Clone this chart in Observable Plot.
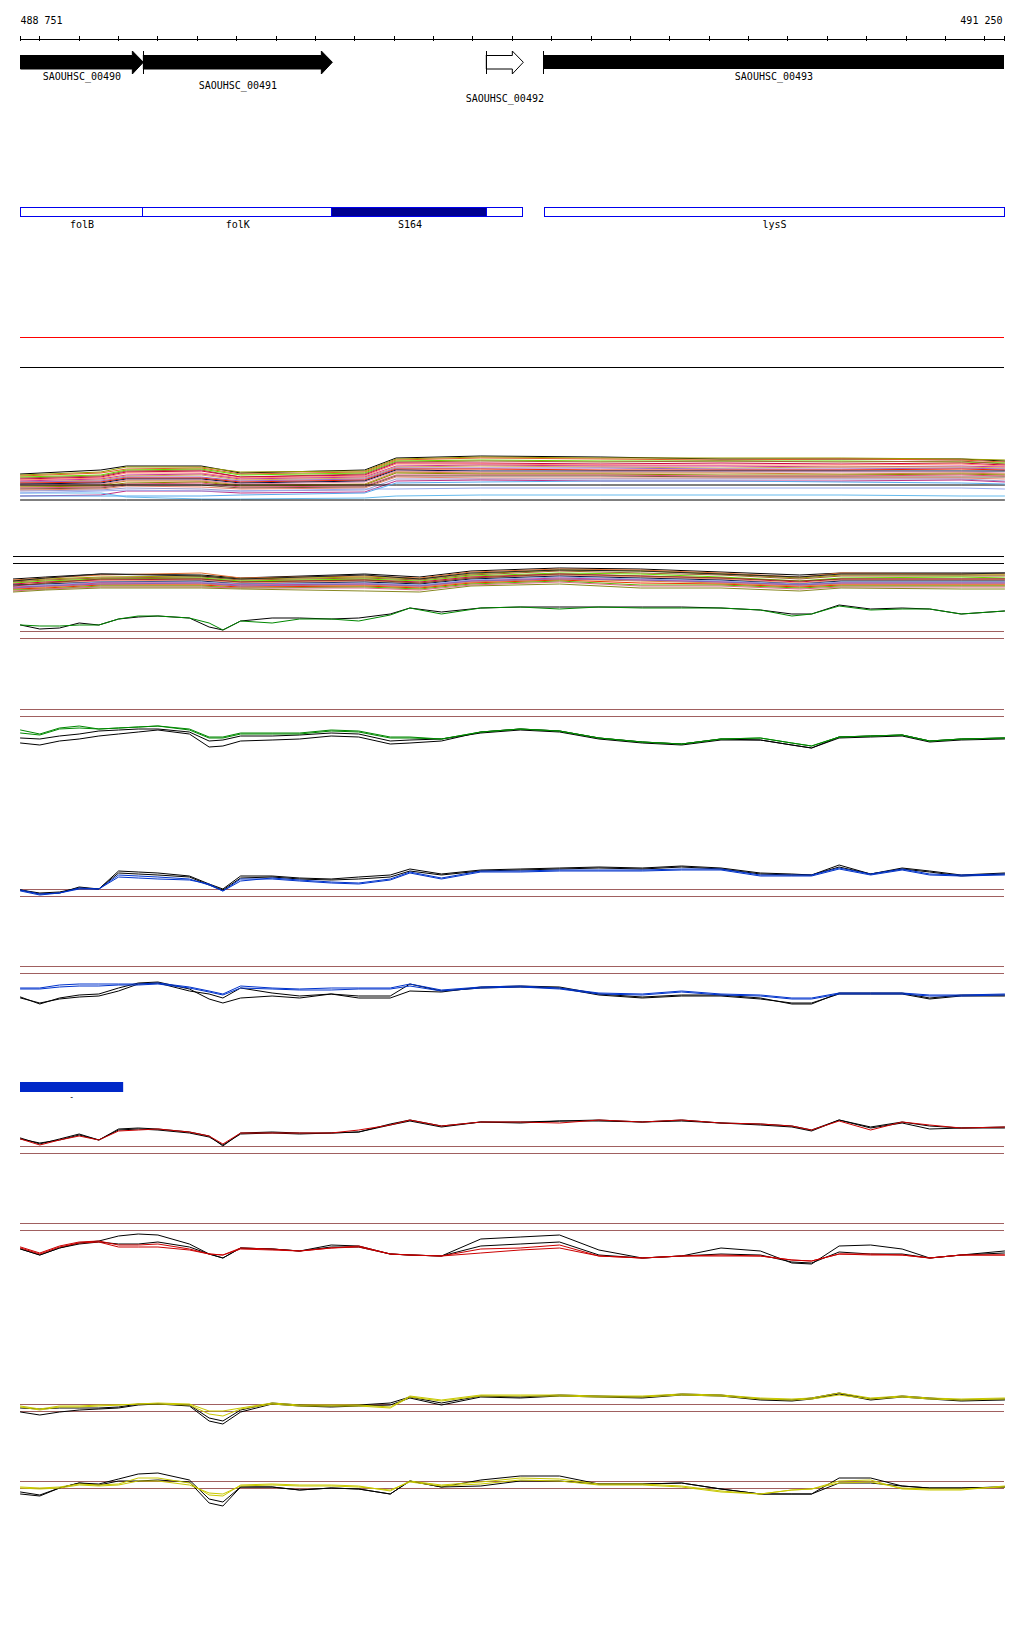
<!DOCTYPE html>
<html><head><meta charset="utf-8">
<script src="https://cdn.jsdelivr.net/npm/d3@7"></script>
<script src="https://cdn.jsdelivr.net/npm/@observablehq/plot@0.6"></script>
<style>body{margin:0;background:#fff}</style>
</head><body><div id="chart"></div>
<script>
// ---------- region and ruler ----------
const START = 488751, END = 491250;
const COORD_LABELS = ["488 751", "491 250"];
const RULER_TICKS = [START, ...d3.range(488800, 491201, 100), END];

// ---------- genes ----------
const GENE_NAMES = ["SAOUHSC_00490", "SAOUHSC_00491", "SAOUHSC_00492", "SAOUHSC_00493"];
const GENE_START = [488751, 489063, 489934, 490079];
const GENE_END   = [489063, 489543, 490028, 491250];
const GENE_HAS_HEAD = [true, true, true, false];
const GENE_FILLED   = [true, true, false, true];

// ---------- features ----------
const FEATURE_NAMES = ["folB", "folK", "S164", "", "lysS"];
const FEATURE_START = [488751, 489063, 489543, 489937, 490082];
const FEATURE_END   = [489063, 489543, 489937, 490028, 491250];
const FEATURE_HIGHLIGHT = [false, false, true, false, false];
const BLUE_BAR = [488751, 489013];
const BLUE_BAR_MARK = 488881;

// ---------- multi-sample tracks ----------
const POS_A = [488751, 488955, 489020, 489210, 489310, 489625, 489705, 489920, 490225, 490530, 490835, 491140, 491250];
const TRACK_A_VALUES = [
 [29,33,37,37,30,33,45,47,46,44,44,44,42],
 [28,31,36,36,31,32,44,46,45,45,45,44,43],
 [27,30,34,35,29,31,43,45,44,43,44,43,41],
 [26,28,33,34,28,30,42,43,42,42,42,41,40],
 [25,27,32,33,26,29,41,42,41,42,41,42,39],
 [24,26,31,32,26,28,40,40,39,40,39,40,38],
 [23,25,30,30,25,27,39,39,38,38,38,39,37],
 [22,24,28,29,24,26,37,38,37,37,36,37,36],
 [21,23,27,28,23,25,36,37,36,35,36,36,35],
 [21,22,26,26,22,24,35,35,35,34,34,35,34],
 [20,21,25,25,21,23,34,34,33,33,33,34,33],
 [19,20,24,24,20,22,33,32,32,32,32,32,32],
 [18,19,23,23,19,21,32,31,31,31,31,31,30],
 [17,18,22,22,18,19,31,30,30,30,29,30,29],
 [16,17,20,21,17,18,30,29,29,28,28,29,28],
 [15,16,19,20,16,17,28,28,28,27,27,28,27],
 [14,15,18,18,15,16,27,27,27,26,26,26,26],
 [13,14,17,16,14,15,26,25,25,25,25,25,24],
 [12,13,15,14,12,13,24,24,24,24,24,24,22],
 [7,8,12,12,10,11,22,23,22,22,22,23,21],
 [18,18,18,18,18,18,18,18,18,18,18,18,18],
 [10,10,6,4,4,5,7,8,8,8,8,7,7],
 [10,12,13,12,12,14,14,15,15,15,15,15,14],
 [7,7,7,7,8,10,20,21,22,22,21,20,19],
 [3,3,3,3,3,3,3,3,3,3,3,3,3]
];
const TRACK_A_COLORS = ["#000000","#9a9a00","#e0602a","#66dd00","#996633","#cc0044","#ff8866","#cc3399","#ccaa55","#9966cc","#ee2200","#001040","#dd88aa","#cc8833","#888800","#e05080","#7a5a3a","#e88070","#9999cc","#bb3388","#000000","#66bbee","#99aaee","#55aaee","#000000"];

const POS_B = [488733, 488815, 488955, 489210, 489310, 489625, 489765, 489895, 490120, 490325, 490530, 490730, 490835, 491140, 491250];
const TRACK_B_VALUES = [
 [22,24,27,26,23,27,24,30,33,32,29,26,28,28,28],
 [21,23,26,28,23,25,23,29,32,31,28,24,28,27,27],
 [20,22,24,25,22,24,22,27,31,30,27,23,26,26,26],
 [19,21,23,24,21,23,21,26,30,28,26,22,25,25,25],
 [18,20,22,23,20,22,20,25,28,27,24,20,23,24,23],
 [17,19,21,22,19,21,19,24,27,25,23,19,22,22,22],
 [16,18,20,21,18,20,18,23,26,24,22,18,21,21,21],
 [16,17,19,20,17,19,17,22,25,23,21,17,20,20,20],
 [15,16,19,19,17,18,16,21,24,22,20,17,19,19,19],
 [14,15,18,18,16,17,15,20,23,21,19,16,18,18,18],
 [13,14,17,17,15,16,14,19,22,20,18,15,17,17,17],
 [12,13,16,16,14,15,13,18,21,18,17,14,16,16,16],
 [11,12,15,15,13,14,12,17,20,16,16,13,15,15,15],
 [10,12,14,14,13,13,11,16,19,15,15,12,14,14,14],
 [9,11,13,13,12,10,9,15,17,13,13,10,13,12,12],
 [20,23,27,25,22,26,22,28,31,30,27,24,27,27,28],
 [15,18,22,22,19,21,18,23,27,25,23,20,22,22,22],
 [13,15,17,18,15,17,15,20,22,21,19,16,18,18,18]
];
const TRACK_B_COLORS = ["#000000","#e07030","#a09a00","#a06030","#66dd00","#cc0044","#f09070","#001040","#88aadd","#cc3399","#d08840","#ee3300","#55bb00","#dd6688","#888822","#222222","#884422","#8866bb"];

// ---------- paired-condition tracks (shared positions) ----------
const POS = [488751,488800,488850,488900,488950,489000,489050,489100,489180,489230,489265,489310,489390,489460,489540,489610,489690,489740,489820,489920,490020,490120,490220,490330,490430,490530,490630,490710,490760,490830,490910,490990,491060,491140,491250];

const G1_BLACK = [13,9,10,15,13,19,21,22,20,11,8,17,20,20,19,20,24,30,26,30,31,31,31,31,31,30,28,24,24,33,29,30,29,24,27];
const G1_GREEN = [13,12,12,13,13,19,22,22,20,15,8,17,15,19,19,17,23,30,24,30,31,29,31,30,30,30,28,22,24,32,28,29,29,24,27];

const G2_BLACK  = [13,12,15,17,20,21,22,22,19,10,11,15,15,16,18,17,10,11,12,18,21,19,12,8,6,11,11,6,3,13,14,15,9,11,12];
const G2_BLACK2 = [8,6,10,12,15,17,19,21,17,4,5,10,11,12,15,14,7,8,10,19,22,20,13,9,7,12,11,6,3,14,15,16,10,12,13];
const G2_GREEN  = [21,17,23,25,22,23,24,25,22,14,14,18,18,18,21,20,14,14,12,19,22,20,13,9,7,12,13,8,5,14,15,16,10,12,13];
const G2_GREEN2 = [18,16,22,23,22,23,24,25,21,13,13,17,17,17,20,19,13,13,12,19,22,20,13,9,7,12,13,8,5,14,15,16,10,12,13];

const B1_BLACK  = [11,7,8,14,12,30,29,28,25,17,12,25,25,23,22,24,26,32,27,31,32,33,34,33,35,33,28,27,26,36,27,33,30,26,28];
const B1_BLACK2 = [11,8,9,13,12,28,27,26,24,16,11,23,24,22,21,22,24,30,26,30,31,32,33,32,34,32,27,26,26,34,27,32,29,25,27];
const B1_BLUE   = [11,7,8,13,12,24,23,22,21,17,10,20,23,21,19,18,22,29,23,30,30,31,31,31,32,32,26,26,26,33,27,32,27,26,27];
const B1_BLUE2  = [10,6,8,12,12,26,25,24,22,16,10,22,22,20,18,17,21,28,22,29,29,30,30,30,31,31,25,25,25,32,26,31,26,25,26];

const B2_BLACK  = [14,7,13,16,17,23,28,29,22,12,8,13,15,13,17,13,13,20,19,24,25,24,17,14,16,16,13,7,7,18,18,18,13,16,16];
const B2_BLACK2 = [13,8,12,14,15,20,27,28,20,17,13,23,18,15,17,15,15,27,20,23,24,23,16,13,15,15,12,8,8,17,17,17,12,15,15];
const B2_BLUE   = [23,23,26,27,27,27,27,28,24,20,17,25,23,22,23,23,23,27,21,24,25,23,18,17,20,17,16,13,13,18,18,18,16,16,17];
const B2_BLUE2  = [22,22,24,25,25,26,26,27,23,19,16,23,22,21,21,22,22,25,20,23,24,22,17,16,19,16,15,12,12,17,17,17,15,15,16];

const R1_BLACK  = [18,12,17,22,16,27,28,27,24,20,10,23,24,23,23,24,32,36,30,34,34,35,36,34,36,33,32,30,26,36,29,34,30,28,29];
const R1_BLACK2 = [17,13,16,21,16,26,27,26,23,19,11,22,23,22,23,24,31,35,29,34,33,35,35,34,35,33,31,29,25,36,28,33,27,28,28];
const R1_RED    = [17,11,16,20,16,25,26,27,24,20,12,23,23,23,23,26,31,36,30,34,34,33,36,34,36,33,32,30,26,35,26,34,31,28,29];

const R2_BLACK  = [17,11,18,23,25,30,32,31,22,12,8,18,17,15,21,20,12,11,10,27,29,31,16,8,10,18,15,3,2,20,21,17,8,11,15];
const R2_BLACK2 = [17,11,18,22,24,22,22,24,19,12,8,18,17,15,19,19,12,11,10,20,22,24,11,8,10,12,11,4,3,14,12,12,8,11,13];
const R2_RED    = [19,13,20,24,25,21,21,22,17,12,11,18,17,15,18,20,12,11,10,17,18,21,10,8,10,11,10,6,5,12,12,11,8,11,11];
const R2_RED2   = [18,12,19,23,24,19,19,19,16,12,11,17,16,15,18,19,12,11,10,13,16,18,10,8,10,10,10,6,5,12,11,11,8,11,11];

const Y1_BLACK   = [18,17,18,18,18,19,22,22,21,8,5,16,23,21,20,21,23,29,23,30,29,31,30,29,32,31,27,26,28,33,27,30,28,26,27];
const Y1_BLACK2  = [14,11,14,16,17,18,21,22,20,5,2,14,22,20,19,20,21,28,21,29,28,30,29,28,31,30,26,25,27,32,26,29,27,25,26];
const Y1_YELLOW  = [20,17,20,20,21,21,22,23,22,15,15,18,23,21,21,21,19,30,26,31,31,31,30,30,32,31,28,27,28,33,28,30,28,27,28];
const Y1_YELLOW2 = [19,16,19,19,20,21,22,22,21,12,10,17,22,20,20,20,18,29,25,30,30,30,29,29,31,30,27,26,27,31,27,29,27,26,27];

const Y2_BLACK   = [17,14,21,26,25,30,35,36,29,10,7,22,22,19,21,20,15,28,22,29,33,33,25,25,26,20,15,15,15,31,31,23,21,21,22];
const Y2_BLACK2  = [15,13,21,26,24,28,28,29,27,6,3,22,22,19,21,20,15,28,22,23,28,28,25,25,26,20,15,15,15,26,26,23,21,21,22];
const Y2_YELLOW  = [22,21,22,25,24,25,31,31,26,14,13,24,25,24,24,23,18,28,24,27,31,30,25,25,23,18,15,19,20,28,29,20,19,19,23];
const Y2_YELLOW2 = [21,20,21,24,23,24,28,28,24,16,15,23,24,23,23,22,19,27,23,25,29,28,24,24,22,17,15,19,20,26,27,21,20,20,22];

// ---------- layout (pixels) ----------
const L = {
  left: 20, right: 1004, width: 1024, height: 1640,
  coordY: 20.5, rulerY: 38.5, tickY1: 35.5, tickY2: 41,
  geneTop: 55, geneBottom: 68.5, headTop: 50.5, headBottom: 73.5, headPx: 11,
  geneLabelY: [76, 85, 98, 76],
  featTop: 207.5, featBottom: 216.5, featLabelY: 224.5,
  redRuleY: 336.5, blackRuleY: 366.5,
  barTop: 1082, barBottom: 1092, barMarkY: 1097,
  trackBSeparators: [555.5, 562.5]
};
const REF = "#a06060";
const TRACKS = [
  {pos: POS_A, bottom: 502, series: TRACK_A_VALUES, colors: TRACK_A_COLORS, refs: []},
  {pos: POS_B, bottom: 600, series: TRACK_B_VALUES, colors: TRACK_B_COLORS, refs: []},
  {pos: POS, bottom: 637, series: [G1_BLACK, G1_GREEN], colors: ["#000", "#008800"], refs: [630.5, 637.5]},
  {pos: POS, bottom: 750, series: [G2_BLACK2, G2_BLACK, G2_GREEN2, G2_GREEN], colors: ["#000", "#000", "#008800", "#008800"], refs: [708.5, 715.5]},
  {pos: POS, bottom: 900, series: [B1_BLACK2, B1_BLACK, B1_BLUE2, B1_BLUE], colors: ["#000", "#000", "#0033cc", "#0033cc"], refs: [888.5, 895.5]},
  {pos: POS, bottom: 1010, series: [B2_BLACK2, B2_BLACK, B2_BLUE2, B2_BLUE], colors: ["#000", "#000", "#0033cc", "#0033cc"], refs: [965.5, 972.5]},
  {pos: POS, bottom: 1155, series: [R1_BLACK2, R1_BLACK, R1_RED], colors: ["#000", "#000", "#cc0000"], refs: [1145.5, 1152.5]},
  {pos: POS, bottom: 1265, series: [R2_BLACK, R2_BLACK2, R2_RED2, R2_RED], colors: ["#000", "#000", "#cc0000", "#cc0000"], refs: [1222.5, 1229.5]},
  {pos: POS, bottom: 1425, series: [Y1_BLACK2, Y1_BLACK, Y1_YELLOW2, Y1_YELLOW], colors: ["#000", "#000", "#c8c800", "#c8c800"], refs: [1403.5, 1410.5]},
  {pos: POS, bottom: 1508, series: [Y2_BLACK2, Y2_BLACK, Y2_YELLOW2, Y2_YELLOW], colors: ["#000", "#000", "#c8c800", "#c8c800"], refs: [1480.5, 1487.5]}
];

const lineRows = TRACKS.flatMap((t, ti) => t.series.flatMap((vals, si) =>
  vals.map((v, i) => ({x: t.pos[i], y: t.bottom - v + 0.5, z: ti + "-" + si, color: t.colors[si]}))));
const refRows = TRACKS.flatMap(t => t.refs);

const BP_PER_PX = (END - START) / (L.right - L.left);
const arrowRows = GENE_NAMES.flatMap((name, i) => {
  if (!GENE_HAS_HEAD[i]) return [];
  const s = GENE_START[i], e = GENE_END[i], hb = e - L.headPx * BP_PER_PX;
  const mid = (L.geneTop + L.geneBottom) / 2;
  return [[s, L.geneTop], [hb, L.geneTop], [hb, L.headTop], [e, mid], [hb, L.headBottom], [hb, L.geneBottom], [s, L.geneBottom], [s, L.geneTop]]
    .map(([x, y]) => ({x, y, id: name, fill: GENE_FILLED[i] ? "black" : "white"}));
});
const gIdx = d3.range(GENE_NAMES.length);
const fIdx = d3.range(FEATURE_NAMES.length);
const FONT = "DejaVu Sans Mono";

const chart = Plot.plot({
  width: L.width, height: L.height,
  marginLeft: 0, marginRight: 0, marginTop: 0, marginBottom: 0,
  x: {domain: [START, END], range: [L.left, L.right], axis: null},
  y: {type: "identity", axis: null},
  color: {type: "identity"},
  style: {background: "white", fontFamily: FONT, fontSize: "10px"},
  marks: [
    // coordinate labels and ruler
    Plot.text([COORD_LABELS[0]], {x: START, y: L.coordY, text: d => d, textAnchor: "start", fontFamily: FONT, fontSize: 10}),
    Plot.text([COORD_LABELS[1]], {x: END, y: L.coordY, text: d => d, textAnchor: "end", dx: -2, fontFamily: FONT, fontSize: 10}),
    Plot.ruleY([L.rulerY], {x1: START, x2: END, stroke: "black", shapeRendering: "crispEdges"}),
    Plot.ruleX(RULER_TICKS, {x: d => d, y1: L.tickY1, y2: L.tickY2, stroke: "black", shapeRendering: "crispEdges"}),
    // genes
    Plot.rect(gIdx.filter(i => !GENE_HAS_HEAD[i]), {x1: i => GENE_START[i], x2: i => GENE_END[i], y1: L.geneTop, y2: L.geneBottom, fill: "black", shapeRendering: "crispEdges"}),
    Plot.line(arrowRows, {x: "x", y: "y", z: "id", fill: "fill", stroke: "black", strokeWidth: 1, curve: "linear"}),
    Plot.ruleX(gIdx.filter(i => i > 0).map(i => GENE_START[i]), {x: d => d, y1: L.headTop, y2: L.headBottom, stroke: "black", shapeRendering: "crispEdges"}),
    Plot.text(gIdx, {x: i => (GENE_START[i] + GENE_END[i]) / 2, y: i => L.geneLabelY[i], text: i => GENE_NAMES[i], fontFamily: FONT, fontSize: 10}),
    // features
    Plot.rect(fIdx, {x1: i => FEATURE_START[i], x2: i => FEATURE_END[i], y1: L.featTop, y2: L.featBottom,
      fill: i => FEATURE_HIGHLIGHT[i] ? "#000090" : "white", stroke: "#0000ee", strokeWidth: 1, shapeRendering: "crispEdges"}),
    Plot.text(fIdx, {x: i => (FEATURE_START[i] + FEATURE_END[i]) / 2, y: L.featLabelY, text: i => FEATURE_NAMES[i], fontFamily: FONT, fontSize: 10}),
    // separators
    Plot.ruleY([L.redRuleY], {x1: START, x2: END, stroke: "#ff0000", shapeRendering: "crispEdges"}),
    Plot.ruleY([L.blackRuleY], {x1: START, x2: END, stroke: "black", shapeRendering: "crispEdges"}),
    Plot.ruleY(L.trackBSeparators, {x1: POS_B[0], x2: END, stroke: "black", shapeRendering: "crispEdges"}),
    // reference lines
    Plot.ruleY(refRows, {x1: START, x2: END, stroke: REF, shapeRendering: "crispEdges"}),
    // blue bar
    Plot.rect([BLUE_BAR], {x1: d => d[0], x2: d => d[1], y1: L.barTop, y2: L.barBottom, fill: "#0028c8"}),
    Plot.text(["-"], {x: BLUE_BAR_MARK, y: L.barMarkY, text: d => d, fontFamily: FONT, fontSize: 8}),
    // signal lines
    Plot.line(lineRows, {x: "x", y: "y", z: "z", stroke: "color", strokeWidth: 1, curve: "linear"})
  ]
});
document.getElementById("chart").append(chart);
</script>
</body></html>
